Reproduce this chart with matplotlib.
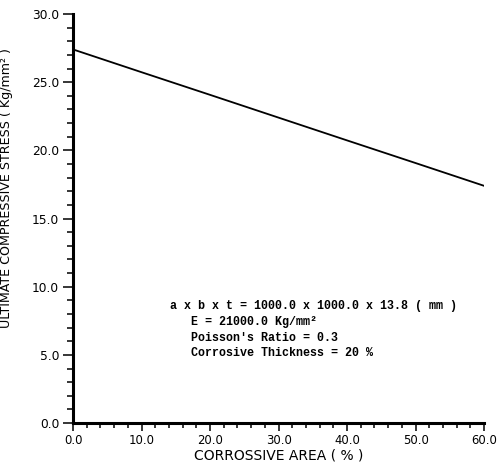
import matplotlib.pyplot as plt
import numpy as np
from matplotlib.ticker import MultipleLocator

# Ultimate compressive stress vs corroded area
corrosive_area = [0.0, 10.0, 20.0, 30.0, 40.0, 50.0, 60.0]
ultimate_stress = [27.4, 25.73, 24.07, 22.4, 20.73, 19.07, 17.4]

notes = [
    "a x b x t = 1000.0 x 1000.0 x 13.8 ( mm )",
    "   E = 21000.0 Kg/mm\u00b2",
    "   Poisson's Ratio = 0.3",
    "   Corrosive Thickness = 20 %",
]

fig = plt.figure(figsize=(4.97, 4.66), dpi=100)
ax = fig.add_axes([0.147, 0.092, 0.827, 0.878])

ax.plot(corrosive_area, ultimate_stress, color='black', lw=1.3)

ax.set_xlim(0, 60)
ax.set_ylim(0, 30)
ax.xaxis.set_major_locator(MultipleLocator(10))
ax.xaxis.set_minor_locator(MultipleLocator(2))
ax.yaxis.set_major_locator(MultipleLocator(5))
ax.yaxis.set_minor_locator(MultipleLocator(1))
ax.xaxis.set_major_formatter(lambda v, p: f"{v:.1f}")
ax.yaxis.set_major_formatter(lambda v, p: f"{v:.1f}")

for s in ['top', 'right']:
    ax.spines[s].set_visible(False)
for s in ['left', 'bottom']:
    ax.spines[s].set_linewidth(2.2)

ax.tick_params(which='both', direction='out', width=1.1, labelsize=8.8)
ax.tick_params(axis='x', labelsize=8.4)
ax.tick_params(axis='y', which='major', length=7, pad=3)
ax.tick_params(axis='y', which='minor', length=4.3)
ax.tick_params(axis='x', which='major', length=5.8, pad=2)
ax.tick_params(axis='x', which='minor', length=3.6)

ax.set_xlabel("CORROSSIVE AREA ( % )", fontsize=10, labelpad=1)
ax.set_ylabel("ULTIMATE COMPRESSIVE STRESS ( Kg/mm\u00b2 )", fontsize=9.1)
ax.yaxis.set_label_coords(-0.145, 0.575)

ax.text(0.235, 0.3, "\n".join(notes), transform=ax.transAxes,
        family='Liberation Mono', fontsize=8.4, fontweight='bold',
        linespacing=1.4, va='top', ha='left')

fig.savefig("out.png", dpi=100)
